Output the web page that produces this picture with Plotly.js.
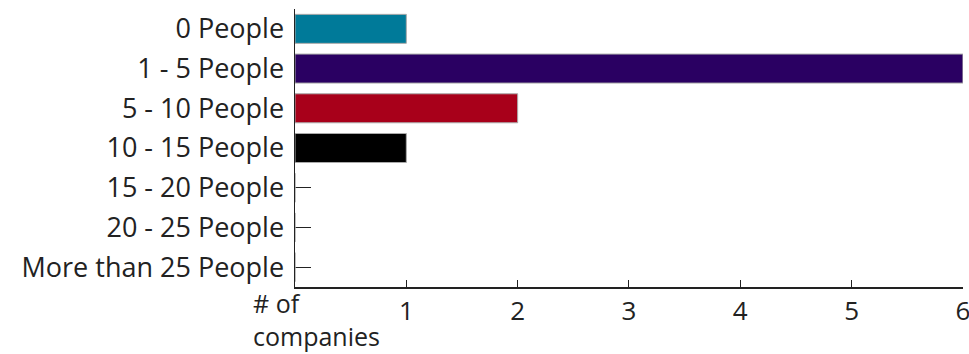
<!DOCTYPE html>
<html>
<head>
<meta charset="utf-8">
<script src="https://cdn.plot.ly/plotly-3.0.1.min.js"></script>
<style>html,body{margin:0;padding:0;background:#fff;}#chart{width:969px;height:354px;}</style>
</head>
<body>
<div id="chart"></div>
<script>
var categories = ["0 People", "1 - 5 People", "5 - 10 People", "10 - 15 People", "15 - 20 People", "20 - 25 People", "More than 25 People"];
var companies = [1, 6, 2, 1, 0, 0, 0];
var barColors = ["#007A99", "#2A0062", "#A8001A", "#000000", "#888888", "#888888", "#888888"];
var xTicks = [1, 2, 3, 4, 5, 6];
var xLabel = "# of<br>companies";

var trace = {
  type: "bar",
  orientation: "h",
  y: categories,
  x: companies,
  marker: {color: barColors, line: {color: "#AAAAAA", width: 1}},
  hoverinfo: "x+y"
};

var font = "'Open Sans', sans-serif";
var layout = {
  width: 969, height: 354,
  margin: {l: 295, r: 6, t: 9, b: 67},
  paper_bgcolor: "#fff", plot_bgcolor: "#fff",
  bargap: 0.27,
  showlegend: false,
  font: {family: font, size: 26, color: "#222"},
  xaxis: {
    range: [0, 6.0005], tickvals: xTicks, ticktext: xTicks.map(String),
    ticks: "inside", ticklen: 7, tickcolor: "#222", tickwidth: 1,
    showline: true, linecolor: "#222", linewidth: 1.5,
    showgrid: false, zeroline: false,
    ticklabeloverflow: "allow",
    tickfont: {family: font, size: 26, color: "#222"}
  },
  yaxis: {
    autorange: "reversed", type: "category",
    ticks: "inside", ticklen: 16, tickcolor: "#222", tickwidth: 1,
    showline: true, linecolor: "#222", linewidth: 1.5,
    showgrid: false, zeroline: false,
    layer: "below traces",
    ticklabelstandoff: 4,
    tickfont: {family: font, size: 27, color: "#222"}
  },
  annotations: [
    {text: xLabel, xref: "paper", yref: "paper", x: 0, y: 0, xanchor: "left", yanchor: "top",
     align: "left", xshift: -43, yshift: 2, borderpad: 0, showarrow: false,
     font: {family: font, size: 25, color: "#222"}}
  ]
};

Plotly.newPlot("chart", [trace], layout, {displayModeBar: false, staticPlot: true});
</script>
</body>
</html>
